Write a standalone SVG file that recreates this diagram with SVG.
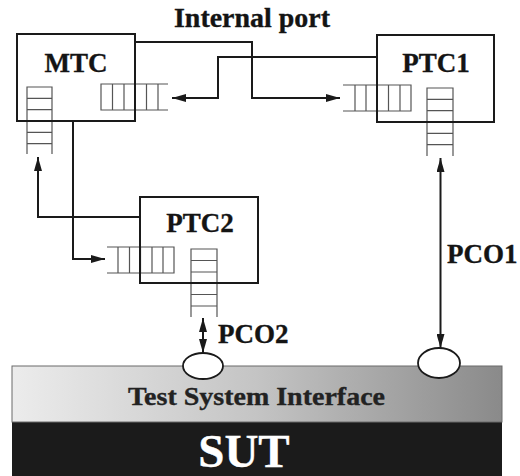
<svg xmlns="http://www.w3.org/2000/svg" width="520" height="476" viewBox="0 0 520 476">
  <style>
    .box { fill: none; stroke: #1a1a1a; stroke-width: 2; }
    .q { fill: none; stroke: #555; stroke-width: 1.2; }
    .conn { fill: none; stroke: #1a1a1a; stroke-width: 2; }
    .lbl { font-family: "Liberation Serif", "Times New Roman", serif; font-weight: bold; fill: #141414; stroke: #141414; stroke-width: 0.35; }
    .port { fill: #fff; stroke: #1a1a1a; stroke-width: 1.8; }
  </style>
  <defs>
    <marker id="ah" viewBox="0 0 14 8" markerWidth="14" markerHeight="8" refX="14" refY="4" orient="auto-start-reverse" markerUnits="userSpaceOnUse">
      <path d="M0,0 L14,4 L0,8 z" fill="#1a1a1a"/>
    </marker>
    <linearGradient id="tsi" x1="0" y1="0" x2="1" y2="0">
      <stop offset="0" stop-color="#ececec"/>
      <stop offset="0.5" stop-color="#c4c4c4"/>
      <stop offset="1" stop-color="#8a8a8a"/>
    </linearGradient>
  </defs>

  <rect width="520" height="476" fill="#fff"/>

  <!-- Test system interface and SUT bands -->
  <g id="sut">
    <rect x="12" y="422" width="490" height="54" fill="#1b1b1b"/>
    <text class="lbl" x="244" y="467" font-size="47" text-anchor="middle" style="fill:#fff;stroke:#fff">SUT</text>
  </g>
  <g id="tsi-band">
    <rect x="12" y="366" width="490" height="56" fill="url(#tsi)" stroke="#6a6a6a" stroke-width="1"/>
    <text class="lbl" x="128" y="405" font-size="26" textLength="257" lengthAdjust="spacingAndGlyphs" style="fill:#222;stroke:#222">Test System Interface</text>
  </g>

  <!-- Connectors -->
  <g id="connectors">
    <path class="conn" d="M135,42 H252 V98 H340" marker-end="url(#ah)"/>
    <path class="conn" d="M377,57 H218 V98 H172" marker-end="url(#ah)"/>
    <path class="conn" d="M140,217 H38 V157" marker-end="url(#ah)"/>
    <path class="conn" d="M73,121 V259 H105" marker-end="url(#ah)"/>
    <path class="conn" d="M440.5,158 V348" marker-start="url(#ah)" marker-end="url(#ah)"/>
    <path class="conn" d="M203,318 V353" marker-start="url(#ah)" marker-end="url(#ah)"/>
  </g>

  <!-- MTC -->
  <g id="mtc">
    <!-- outgoing queue, vertical -->
    <path class="q" d="M27,154 V87 H52 V154 M27,98.3 H52 M27,109.7 H52 M27,121 H52 M27,132.3 H52 M27,143.7 H52"/>
    <!-- incoming queue, horizontal, open to the right -->
    <path class="q" d="M168,84 H101 V110 H168 M112.5,84 V110 M124,84 V110 M135,84 V110 M146.5,84 V110 M158,84 V110"/>
    <rect class="box" x="17" y="34" width="118" height="87"/>
    <text class="lbl" x="76" y="72" font-size="27" text-anchor="middle">MTC</text>
  </g>

  <!-- PTC1 -->
  <g id="ptc1">
    <path class="q" d="M343,85 H411 V111 H343 M355,85 V111 M366,85 V111 M377,85 V111 M388.5,85 V111 M400,85 V111"/>
    <path class="q" d="M427,156 V88 H453 V156 M427,99.3 H453 M427,110.7 H453 M427,122 H453 M427,133.3 H453 M427,144.7 H453"/>
    <rect class="box" x="377" y="35" width="117" height="87"/>
    <text class="lbl" x="436" y="72" font-size="27" text-anchor="middle">PTC1</text>
  </g>

  <!-- PTC2 -->
  <g id="ptc2">
    <path class="q" d="M107,247 H174 V273 H107 M118,247 V273 M129.5,247 V273 M140.5,247 V273 M152,247 V273 M163,247 V273"/>
    <path class="q" d="M191,317 V249 H217 V317 M191,260.5 H217 M191,272 H217 M191,283 H217 M191,294.5 H217 M191,306 H217"/>
    <rect class="box" x="140" y="197" width="118" height="86"/>
    <text class="lbl" x="200" y="232" font-size="27" text-anchor="middle">PTC2</text>
  </g>

  <!-- Points of control and observation -->
  <g id="pco2">
    <ellipse class="port" cx="203" cy="366" rx="20" ry="13"/>
    <text class="lbl" x="218" y="343" font-size="27">PCO2</text>
  </g>
  <g id="pco1">
    <ellipse class="port" cx="439" cy="363" rx="21" ry="15"/>
    <text class="lbl" x="447" y="263" font-size="27">PCO1</text>
  </g>

  <g id="internal-port">
    <text class="lbl" x="174" y="27" font-size="28" textLength="156" lengthAdjust="spacingAndGlyphs">Internal port</text>
  </g>
</svg>
